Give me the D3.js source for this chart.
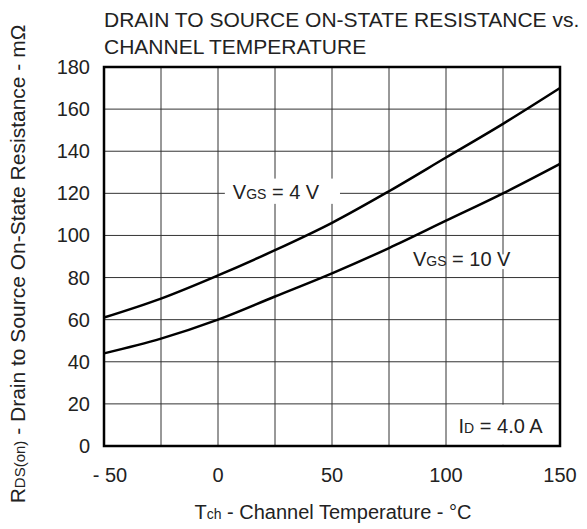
<!DOCTYPE html>
<html lang="en">
<head>
  <meta charset="UTF-8">
  <title>Drain to Source On-State Resistance vs. Channel Temperature</title>
  <style>
    body {
      margin: 0;
      background-color: #fff;
      font-family: Arial, "Liberation Sans", sans-serif;
    }
    svg text {
      fill: #222;
    }
    .grid line {
      stroke: #333;
      stroke-width: 1;
    }
  </style>
</head>
<body>
  <svg id="chart" width="587" height="529"></svg>
  <script src="https://d3js.org/d3.v7.min.js"></script>
  <script>
    const temps = [-50, -25, 0, 25, 50, 75, 100, 125, 150];
    const rdsVgs4 = [61, 70, 81, 93, 106, 121, 137, 153, 170];
    const rdsVgs10 = [44, 51, 60, 71, 82, 94, 107, 120, 134];
    const xTicks = [-50, 0, 50, 100, 150];
    const yTicks = [0, 20, 40, 60, 80, 100, 120, 140, 160, 180];

    const margin = { top: 67, right: 27, bottom: 83, left: 104 };
    const width = 587 - margin.left - margin.right;
    const height = 529 - margin.top - margin.bottom;

    const svg = d3.select('#chart');
    const g = svg.append('g')
      .attr('transform', `translate(${margin.left}, ${margin.top})`);

    const x = d3.scaleLinear().domain([-50, 150]).range([0, width]);
    const y = d3.scaleLinear().domain([0, 180]).range([height, 0]);

    // grid
    const grid = g.append('g').attr('class', 'grid');
    grid.selectAll('.vx')
      .data(d3.range(-25, 150, 25))
      .enter().append('line')
      .attr('x1', d => x(d)).attr('x2', d => x(d))
      .attr('y1', 0).attr('y2', height);
    grid.selectAll('.hy')
      .data(d3.range(20, 180, 20))
      .enter().append('line')
      .attr('x1', 0).attr('x2', width)
      .attr('y1', d => y(d)).attr('y2', d => y(d));

    const line = d3.line()
      .x((d, i) => x(temps[i]))
      .y(d => y(d))
      .curve(d3.curveCatmullRom);

    [rdsVgs4, rdsVgs10].forEach(s => {
      g.append('path')
        .datum(s)
        .attr('fill', 'none')
        .attr('stroke', '#000')
        .attr('stroke-width', 2.5)
        .attr('d', line);
    });

    // label backgrounds
    g.append('rect')
      .attr('x', x(3)).attr('y', y(127))
      .attr('width', x(53.5) - x(3)).attr('height', y(115) - y(127))
      .attr('fill', '#fff');
    g.append('rect')
      .attr('x', x(100.5)).attr('y', y(19.6))
      .attr('width', x(149.5) - x(100.5)).attr('height', y(0.6) - y(19.6))
      .attr('fill', '#fff');
    g.append('rect')
      .attr('x', x(123)).attr('y', y(91))
      .attr('width', x(127) - x(123)).attr('height', y(84) - y(91))
      .attr('fill', '#fff');

    // curve labels
    const lab = (tx, ty, main, sub, rest) => {
      const t = g.append('text')
        .attr('x', x(tx)).attr('y', y(ty))
        .attr('font-size', 20);
      t.append('tspan').text(main);
      t.append('tspan').attr('font-size', 14).text(sub);
      t.append('tspan').text(rest);
    };
    lab(6.5, 117.5, 'V', 'GS', ' = 4 V');
    lab(85.5, 85.5, 'V', 'GS', ' = 10 V');
    lab(105.5, 6, 'I', 'D', ' = 4.0 A');

    // frame
    g.append('rect')
      .attr('x', 0).attr('y', 0)
      .attr('width', width).attr('height', height)
      .attr('fill', 'none')
      .attr('stroke', '#000')
      .attr('stroke-width', 2.5);

    // tick labels
    g.selectAll('.ytl')
      .data(yTicks)
      .enter().append('text')
      .attr('x', -14)
      .attr('y', d => y(d) + 7)
      .attr('text-anchor', 'end')
      .attr('font-size', 20)
      .text(d => d);

    g.selectAll('.xtl')
      .data(xTicks)
      .enter().append('text')
      .attr('x', d => x(d) + (d < 0 ? 6 : 0))
      .attr('y', height + 36)
      .attr('text-anchor', 'middle')
      .attr('font-size', 20)
      .text(d => d < 0 ? '- ' + Math.abs(d) : d);

    // x axis title
    const xt = svg.append('text')
      .attr('x', 333).attr('y', 519)
      .attr('text-anchor', 'middle')
      .attr('font-size', 20);
    xt.append('tspan').text('T');
    xt.append('tspan').attr('font-size', 14).text('ch');
    xt.append('tspan').text(' - Channel Temperature - °C');

    // y axis title
    const yt = svg.append('text')
      .attr('transform', 'translate(25, 264) rotate(-90)')
      .attr('text-anchor', 'middle')
      .attr('font-size', 21);
    yt.append('tspan').text('R');
    yt.append('tspan').attr('font-size', 15).text('DS(on)');
    yt.append('tspan').text(' - Drain to Source On-State Resistance - mΩ');

    // title
    svg.append('text')
      .attr('x', 104).attr('y', 27)
      .attr('font-size', 21)
      .text('DRAIN TO SOURCE ON-STATE RESISTANCE vs.');
    svg.append('text')
      .attr('x', 104).attr('y', 54)
      .attr('font-size', 21)
      .text('CHANNEL TEMPERATURE');
  </script>
</body>
</html>
